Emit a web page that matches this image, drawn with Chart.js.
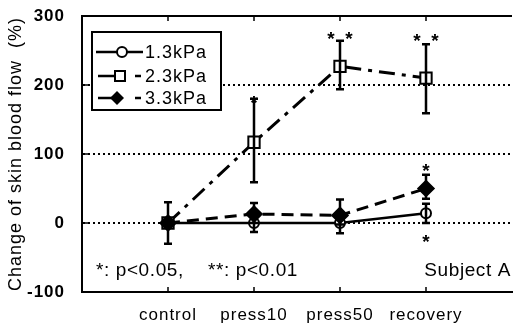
<!DOCTYPE html>
<html><head><meta charset="utf-8">
<script src="https://cdn.jsdelivr.net/npm/chart.js@4"></script>
<style>html,body{margin:0;padding:0;background:#fff}#w{width:522px;height:327px}</style>
</head><body><div id="w"><canvas id="c" width="522" height="327"></canvas></div>
<script>
const categories = ['control', 'press10', 'press50', 'recovery'];
const seriesNames = ['1.3kPa', '2.3kPa', '3.3kPa'];
const kpa13 = [0, 0, 0, 14];
const kpa13Lo = [0, -13, -15, 0];
const kpa13Hi = [0, 12, 12, 28];
const kpa23 = [0, 117, 227, 210];
const kpa23Lo = [0, 59, 194, 159];
const kpa23Hi = [0, 180, 264, 259];
const kpa33 = [0, 13, 11, 50];
const kpa33Lo = [-30, 0, -2, 35];
const kpa33Hi = [30, 29, 34, 70];
const yTicks = [-100, 0, 100, 200, 300];
const starCats = [2, 3, 4, 4, 4];
const starVals = [181, 274, 271, 83, -20];
const starCounts = [1, 2, 2, 1, 1];
const noteTexts = ['*: p<0.05,', '**: p<0.01', 'Subject A'];

const pts = arr => arr.map((v, i) => ({x: i + 1, y: v}));
const FONT = '"Liberation Sans", Arial, sans-serif';

const extras = {
  id: 'extras',
  beforeDraw(chart) { chart.ctx.letterSpacing = '1px'; },
  afterDatasetsDraw(chart) {
    const ctx = chart.ctx, xs = chart.scales.x, ys = chart.scales.y, a = chart.chartArea;
    ctx.save();
    const errs = [[kpa13Lo, kpa13Hi], [kpa23Lo, kpa23Hi], [kpa33Lo, kpa33Hi]];
    ctx.strokeStyle = '#000'; ctx.lineWidth = 2.5; ctx.setLineDash([]);
    errs.forEach(([lo, hi]) => {
      lo.forEach((l, i) => {
        const h = hi[i];
        if (l === h) return;
        const x = xs.getPixelForValue(i + 1), y1 = ys.getPixelForValue(l), y2 = ys.getPixelForValue(h);
        ctx.beginPath();
        ctx.moveTo(x, y1); ctx.lineTo(x, y2);
        ctx.moveTo(x - 4, y1); ctx.lineTo(x + 4, y1);
        ctx.moveTo(x - 4, y2); ctx.lineTo(x + 4, y2);
        ctx.stroke();
      });
    });
    ctx.lineWidth = 2;
    ctx.beginPath(); ctx.moveTo(a.left, a.top); ctx.lineTo(a.right, a.top); ctx.stroke();
    ctx.lineWidth = 1.5;
    for (let i = 1; i <= 4; i++) {
      const x = xs.getPixelForValue(i);
      ctx.beginPath();
      ctx.moveTo(x, a.top); ctx.lineTo(x, a.top + 5);
      ctx.moveTo(x, a.bottom); ctx.lineTo(x, a.bottom - 5);
      ctx.stroke();
    }
    yTicks.forEach(v => {
      const y = ys.getPixelForValue(v);
      ctx.beginPath(); ctx.moveTo(a.left, y); ctx.lineTo(a.left + 6, y); ctx.stroke();
    });
    ctx.fillStyle = '#000';
    ctx.letterSpacing = '0px';
    ctx.font = 'bold 19px ' + FONT;
    ctx.textAlign = 'center'; ctx.textBaseline = 'alphabetic';
    starCats.forEach((c, i) => {
      const x = xs.getPixelForValue(c), y = ys.getPixelForValue(starVals[i]) + 11;
      if (starCounts[i] === 1) ctx.fillText('*', x, y);
      else { ctx.fillText('*', x - 9, y); ctx.fillText('*', x + 9, y); }
    });
    ctx.letterSpacing = '0.6px';
    ctx.font = '19px ' + FONT;
    ctx.textAlign = 'left';
    ctx.fillText(noteTexts[0], a.left + 14, 276);
    ctx.fillText(noteTexts[1], a.left + 126, 276);
    ctx.textAlign = 'right';
    ctx.fillText(noteTexts[2], a.right - 1, 276);
    const lx = 92, ly = 32, lw = 129, lh = 78;
    ctx.fillStyle = '#fff'; ctx.fillRect(lx, ly, lw, lh);
    ctx.lineWidth = 2; ctx.strokeStyle = '#000';
    ctx.strokeRect(lx, ly, lw, lh);
    const rowY = [52, 76, 98];
    seriesNames.forEach((n, i) => {
      const y = rowY[i];
      ctx.lineWidth = 2.5; ctx.setLineDash([]);
      ctx.beginPath();
      if (i === 0) { ctx.moveTo(96, y); ctx.lineTo(143, y); }
      else { ctx.moveTo(98, y); ctx.lineTo(116, y); ctx.moveTo(135, y); ctx.lineTo(141, y); }
      ctx.stroke();
      ctx.lineWidth = 2;
      if (i === 0) { ctx.beginPath(); ctx.arc(122, y, 5, 0, Math.PI * 2); ctx.fillStyle = '#fff'; ctx.fill(); ctx.stroke(); }
      if (i === 1) { ctx.fillStyle = '#fff'; ctx.fillRect(115, y - 5, 10, 10); ctx.strokeRect(115, y - 5, 10, 10); }
      if (i === 2) { ctx.beginPath(); ctx.moveTo(117, y - 7); ctx.lineTo(124, y); ctx.lineTo(117, y + 7); ctx.lineTo(110, y); ctx.closePath(); ctx.fillStyle = '#000'; ctx.fill(); }
      ctx.fillStyle = '#000';
      ctx.letterSpacing = '1px';
      ctx.font = '18px ' + FONT;
      ctx.textAlign = 'left'; ctx.textBaseline = 'middle';
      ctx.fillText(n, 145, y + 1);
    });
    ctx.restore();
  }
};

new Chart(document.getElementById('c'), {
  type: 'line',
  data: {
    datasets: [
      {label: seriesNames[2], data: pts(kpa33), borderColor: '#000', borderWidth: 3, borderDash: [12, 7],
       pointStyle: 'rectRot', pointRadius: 7, pointBackgroundColor: '#000', pointBorderColor: '#000', order: 1},
      {label: seriesNames[0], data: pts(kpa13), borderColor: '#000', borderWidth: 2.5,
       pointStyle: 'circle', pointRadius: 5, pointBackgroundColor: '#fff', pointBorderColor: '#000', pointBorderWidth: 2, order: 2},
      {label: seriesNames[1], data: pts(kpa23), borderColor: '#000', borderWidth: 3, borderDash: [16, 7, 4, 7],
       pointStyle: 'rect', pointRadius: 8, pointBackgroundColor: '#fff', pointBorderColor: '#000', pointBorderWidth: 2, order: 3}
    ]
  },
  options: {
    responsive: false, animation: false,
    layout: {padding: {top: 16, right: 1, left: 0, bottom: 0}},
    plugins: {legend: {display: false}, tooltip: {enabled: false}},
    scales: {
      x: {
        type: 'linear', min: 0, max: 5,
        afterFit: s => { s.height = 35; s.paddingLeft = 0; s.paddingRight = 0; },
        afterBuildTicks: s => { s.ticks = [1, 2, 3, 4].map(v => ({value: v})); },
        ticks: {callback: v => categories[v - 1] || '', color: '#000', font: {family: FONT, size: 17}, padding: 5, maxRotation: 0, autoSkip: false},
        grid: {display: false},
        border: {display: true, color: '#000', width: 2}
      },
      y: {
        min: -100, max: 300,
        afterFit: s => { s.width = 82; s.paddingTop = 0; s.paddingBottom = 0; },
        afterBuildTicks: s => { s.ticks = yTicks.map(v => ({value: v})); },
        ticks: {color: '#000', font: {family: FONT, size: 17, weight: 'bold'}, padding: 17},
        grid: {drawTicks: false, lineWidth: 2, color: c => (c.tick && (c.tick.value === 300 || c.tick.value === -100)) ? 'rgba(0,0,0,0)' : '#000'},
        border: {display: true, color: '#000', width: 2, dash: [2, 3]},
        title: {display: true, text: 'Change of skin blood flow  (%)', color: '#000', font: {family: FONT, size: 18}, padding: {top: 5, bottom: 0}}
      }
    }
  },
  plugins: [extras]
});
</script></body></html>
